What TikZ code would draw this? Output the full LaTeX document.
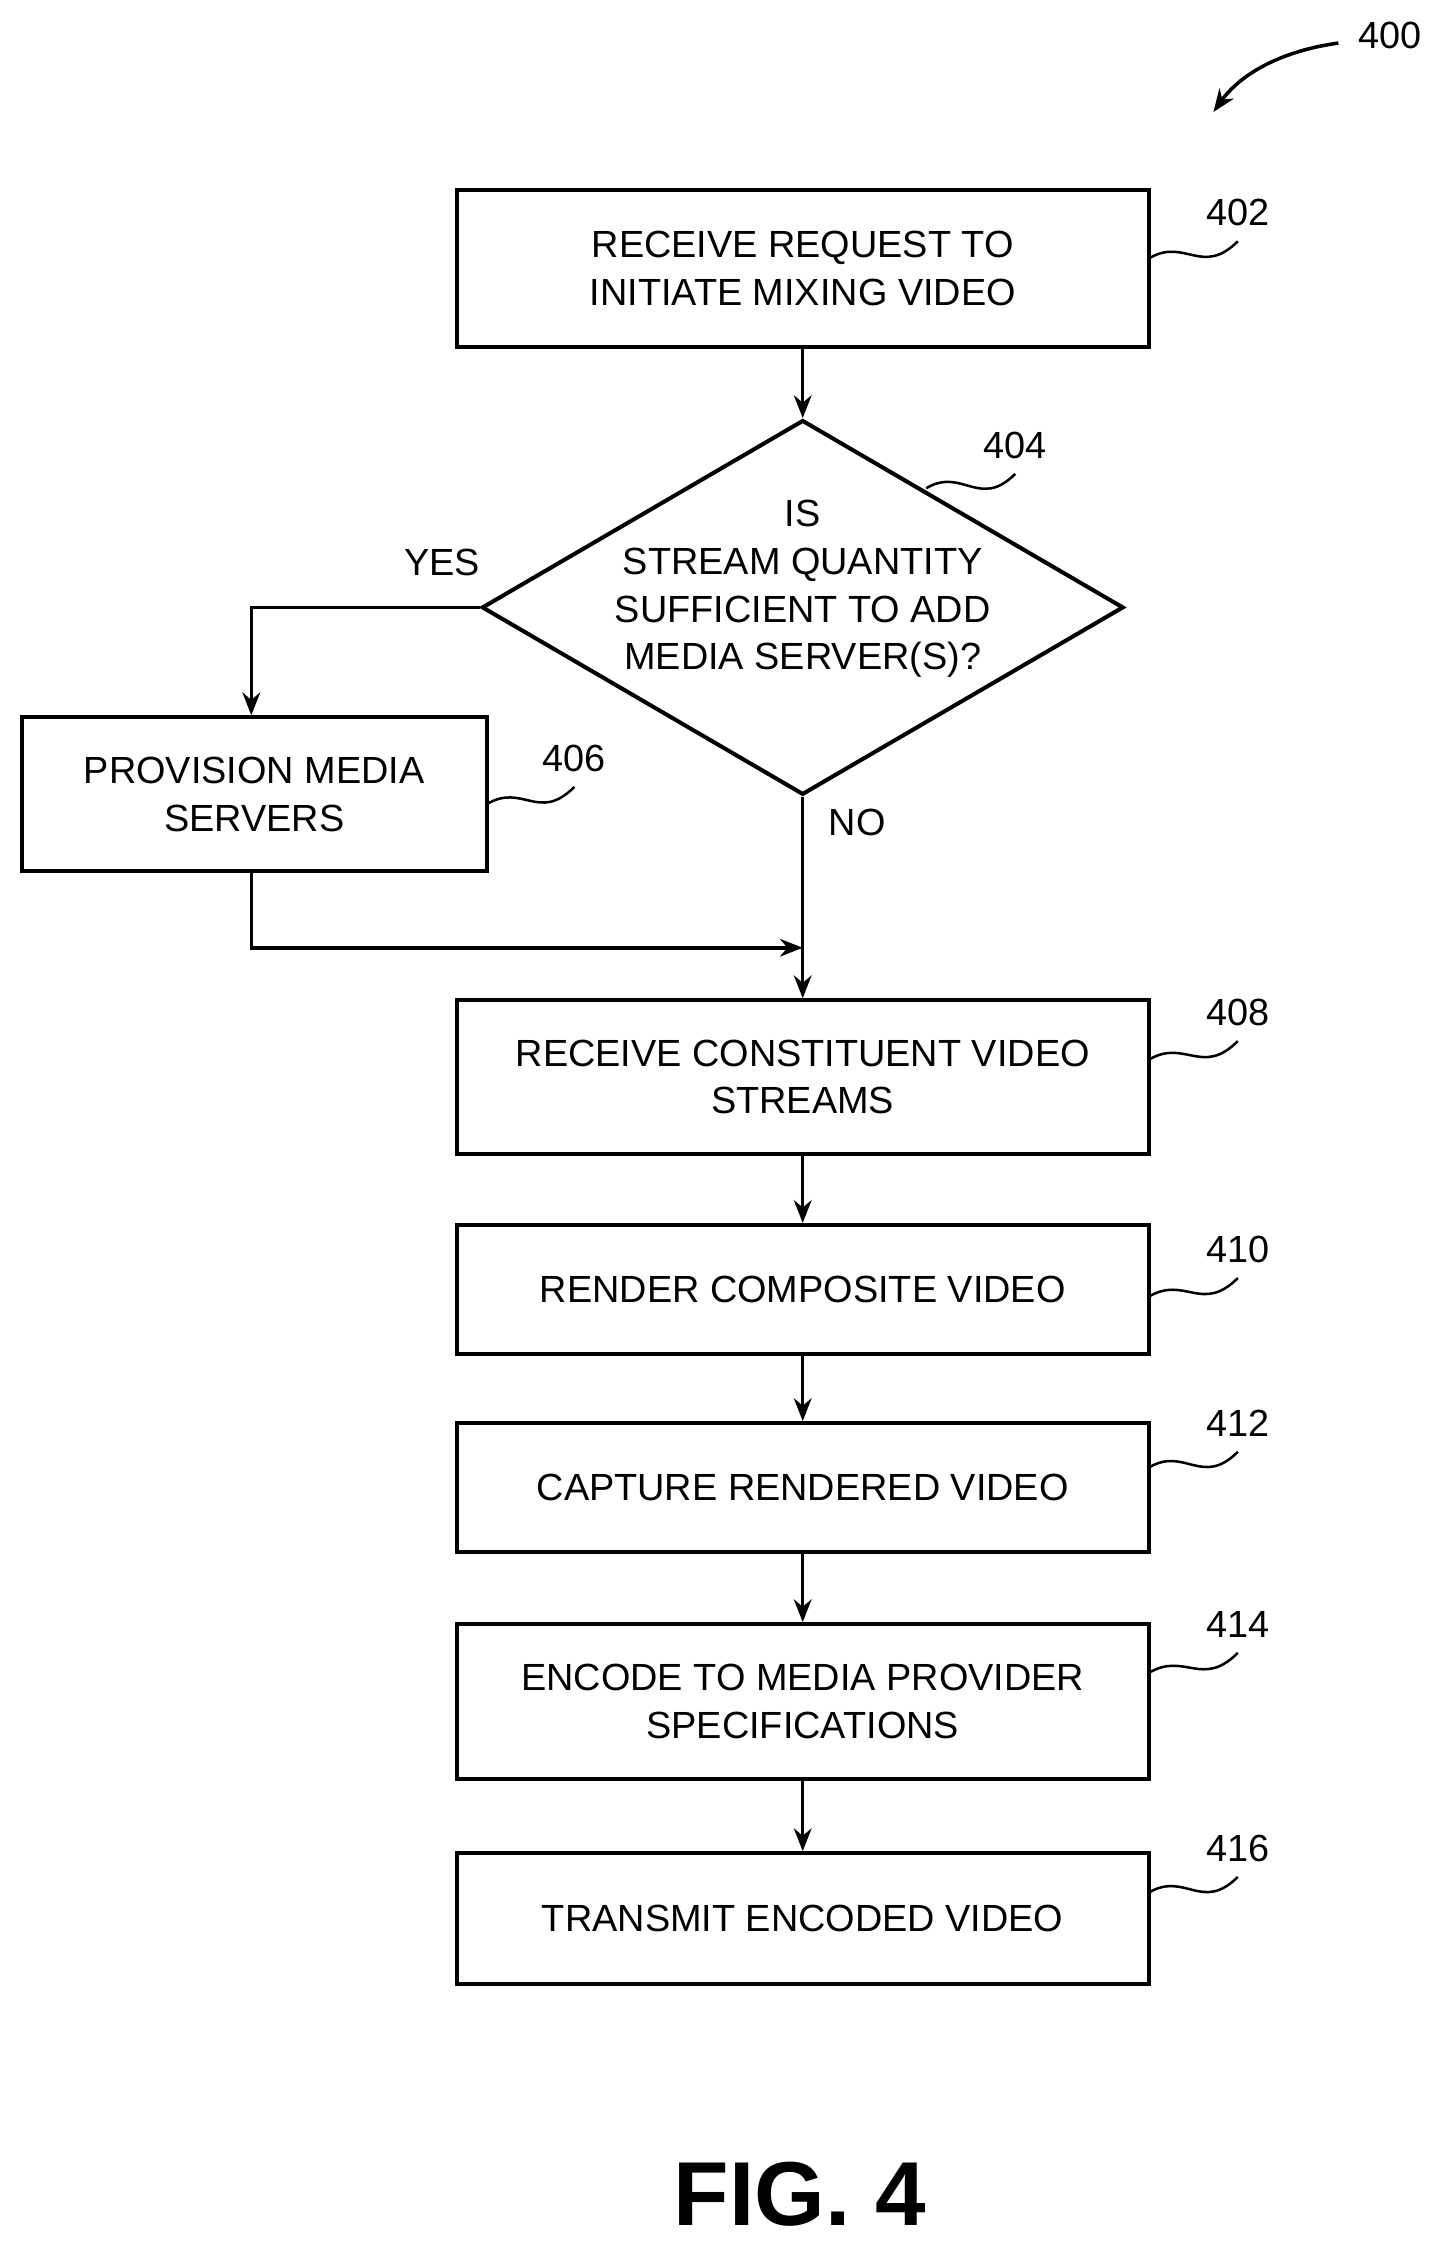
\documentclass[tikz,border=0pt]{standalone}
\usepackage{fontspec}
\setmainfont{Liberation Sans}
\usetikzlibrary{arrows.meta,shapes.geometric}

\begin{document}
\begin{tikzpicture}[x=0.02cm,y=-0.02cm,>={Stealth[length=9pt,width=7pt]},
  thick,line width=1.4pt,
  step node/.style={rectangle,draw,line width=1.6pt,minimum width=9.64cm,
    align=center,font=\fontsize{15}{19}\selectfont},
  dec node/.style={diamond,draw,line width=1.6pt,minimum width=8.94cm,
    minimum height=5.22cm,inner sep=0pt},
  dec text/.style={align=center,font=\fontsize{15}{19}\selectfont},
  ref label/.style={font=\fontsize{15}{18}\selectfont}]
  \useasboundingbox (0,0) rectangle (1000,1562);
  % steps
  \node[step node,minimum height=2.18cm] (402) at (559,187) {RECEIVE REQUEST TO\\INITIATE MIXING VIDEO};
  \node[dec node] (404) at (559,423) {};
  \node[dec text] (404t) at (559,410) {IS\\STREAM QUANTITY\\SUFFICIENT TO ADD\\MEDIA SERVER(S)?};
  \node[step node,minimum width=6.48cm,minimum height=2.14cm] (406) at (177,553) {PROVISION MEDIA\\SERVERS};
  \node[step node,minimum height=2.14cm] (408) at (559,750) {RECEIVE CONSTITUENT VIDEO\\STREAMS};
  \node[step node,minimum height=1.8cm] (410) at (559,898) {RENDER COMPOSITE VIDEO};
  \node[step node,minimum height=1.8cm] (412) at (559,1036) {CAPTURE RENDERED VIDEO};
  \node[step node,minimum height=2.16cm] (414) at (559,1185) {ENCODE TO MEDIA PROVIDER\\SPECIFICATIONS};
  \node[step node,minimum height=1.82cm] (416) at (559,1336) {TRANSMIT ENCODED VIDEO};
  % flow
  \coordinate (yes) at (175,423);
  \coordinate (join) at (559,660);
  \draw[->] (402) -- (404.north);
  \draw[->] (404.west) -- (yes) -- (406.north -| yes);
  \draw[->] (404.south) -- (408.north);
  \draw[->] (406.south -| yes) -- (175,660) -- (join);
  \draw[->] (408) -- (410);
  \draw[->] (410) -- (412);
  \draw[->] (412) -- (414);
  \draw[->] (414) -- (416);
  \node[ref label] (yeslbl) at (308,392) {YES};
  \node[ref label] (nolbl) at (597,573) {NO};
  % reference numerals
  \foreach \n/\x/\y/\sx/\sy in {402/862/148/800/180, 404/707/310/645/340,
      406/400/528/339/560, 408/862/705/800/738, 410/862/870/800/903,
      412/862/991/800/1022, 414/862/1131/800/1165, 416/862/1287/800/1318} {
    \node[ref label] (l\n) at (\x,\y) {\n};
    \draw[line width=1pt] (\sx,\sy) .. controls (\sx+25,\sy-15) and (\x-25,\y+45) .. (\x,\y+20);
  }
  \node[ref label] (l400) at (968,25) {400};
  \draw[->,line width=1.4pt] (932,30) .. controls (895,35) and (865,50) .. (845,78);
  \node[font=\bfseries\fontsize{36}{40}\selectfont] (fig) at (557,1528) {FIG. 4};
\end{tikzpicture}
\end{document}
